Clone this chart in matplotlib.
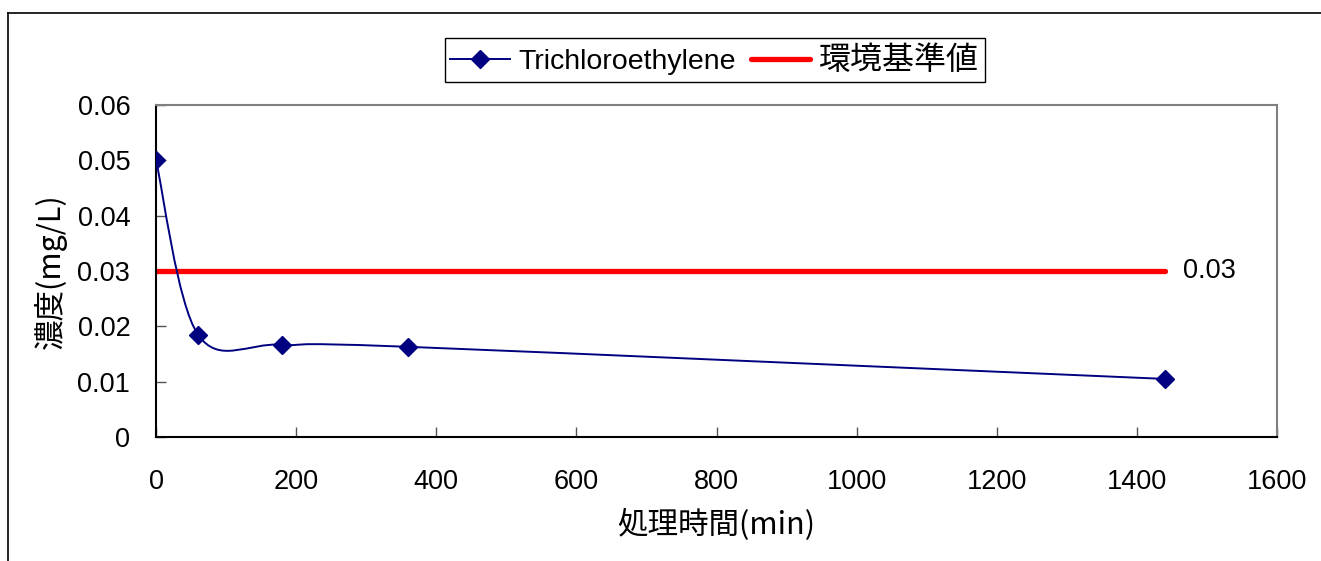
import matplotlib
matplotlib.use("Agg")
import matplotlib.pyplot as plt
from matplotlib.path import Path
from matplotlib.patches import PathPatch
from matplotlib.lines import Line2D
import numpy as np

# ---- data ----
time_min = [0, 60, 180, 360, 1440]
tce_conc = [0.05, 0.0185, 0.0167, 0.0163, 0.0105]
standard_value = 0.03
standard_x = [0, 1440]
series_label = "Trichloroethylene"
standard_label = "環境基準値"
x_ticks = [0, 200, 400, 600, 800, 1000, 1200, 1400, 1600]
y_ticks = [0, 0.01, 0.02, 0.03, 0.04, 0.05, 0.06]
y_ticklabels = ["0", "0.01", "0.02", "0.03", "0.04", "0.05", "0.06"]
x_label = "処理時間(min)"
y_label = "濃度(mg/L)"

NAVY = "#000080"
RED = "#FF0000"
LAT = ["Liberation Sans", "Noto Sans CJK JP"]
CJK = ["Noto Sans CJK JP", "DejaVu Sans"]

fig = plt.figure(figsize=(13.21, 5.61), dpi=100)
ax = fig.add_axes([0.1181, 0.221, 0.8486, 0.5918])

# smoothed (Catmull-Rom style Bezier) line like Excel's smoothing
pts = np.column_stack([time_min, tce_conc]).astype(float)
n = len(pts)
verts = [tuple(pts[0])]
codes = [Path.MOVETO]
for i in range(n - 1):
    p0 = pts[i - 1] if i > 0 else pts[i]
    p1 = pts[i]
    p2 = pts[i + 1]
    p3 = pts[i + 2] if i + 2 < n else pts[i + 1]
    c1 = p1 + (p2 - p0) / 6.0
    c2 = p2 - (p3 - p1) / 6.0
    verts += [tuple(c1), tuple(c2), tuple(p2)]
    codes += [Path.CURVE4] * 3
ax.add_patch(PathPatch(Path(verts, codes), fill=False, edgecolor=NAVY, lw=1.4, zorder=3))
ax.plot(time_min, tce_conc, linestyle="none", marker="D", color=NAVY, markersize=9.5, zorder=4)

# standard line
ax.plot(standard_x, [standard_value] * 2, color=RED, lw=3.8, solid_capstyle="round", zorder=2)
ax.annotate(f"{standard_value:.2f}", xy=(standard_x[1], standard_value), xytext=(13, 0),
            textcoords="offset points", va="center", ha="left", fontsize=19.5, family=LAT)

ax.set_xlim(0, 1600)
ax.set_ylim(0, 0.06)
ax.set_xticks(x_ticks)
ax.set_yticks(y_ticks)
ax.set_yticklabels(y_ticklabels)
ax.tick_params(axis="both", direction="in", length=7, width=1, color="#555555")
ax.tick_params(axis="y", labelsize=19.5, pad=18.5)
ax.tick_params(axis="x", labelsize=19.5, pad=23)
for lab in ax.get_xticklabels() + ax.get_yticklabels():
    lab.set_family(LAT)

for side in ["left", "bottom"]:
    ax.spines[side].set_color("black")
    ax.spines[side].set_linewidth(1.5)
for side in ["top", "right"]:
    ax.spines[side].set_color("#808080")
    ax.spines[side].set_linewidth(1.5)

ax.set_xlabel(x_label, fontsize=22, family=CJK, labelpad=10)
ax.set_ylabel(y_label, fontsize=22, family=CJK, labelpad=8)

handles = [
    Line2D([], [], color=NAVY, lw=1.4, marker="D", markersize=9.5),
    Line2D([], [], color=RED, lw=3.8, solid_capstyle="round"),
]
leg = fig.legend(handles, [series_label, standard_label], loc="center",
                 bbox_to_anchor=(0.541, 0.893), bbox_transform=fig.transFigure,
                 ncol=2, fancybox=False, edgecolor="black", framealpha=1,
                 handlelength=2.1, columnspacing=0.5, handletextpad=0.3,
                 borderpad=0.2, borderaxespad=0, prop={"family": LAT, "size": 20.5})
leg.get_frame().set_linewidth(1.0)
leg.get_texts()[1].set_family(CJK)
leg.get_texts()[1].set_fontsize(23)

# outer chart frame
fig.add_artist(Line2D([8 / 1321, 1.0], [1 - 13 / 561] * 2, transform=fig.transFigure, color="black", lw=1.2))
fig.add_artist(Line2D([8 / 1321] * 2, [0, 1 - 13 / 561], transform=fig.transFigure, color="black", lw=1.2))

fig.savefig("out.png", dpi=100)
